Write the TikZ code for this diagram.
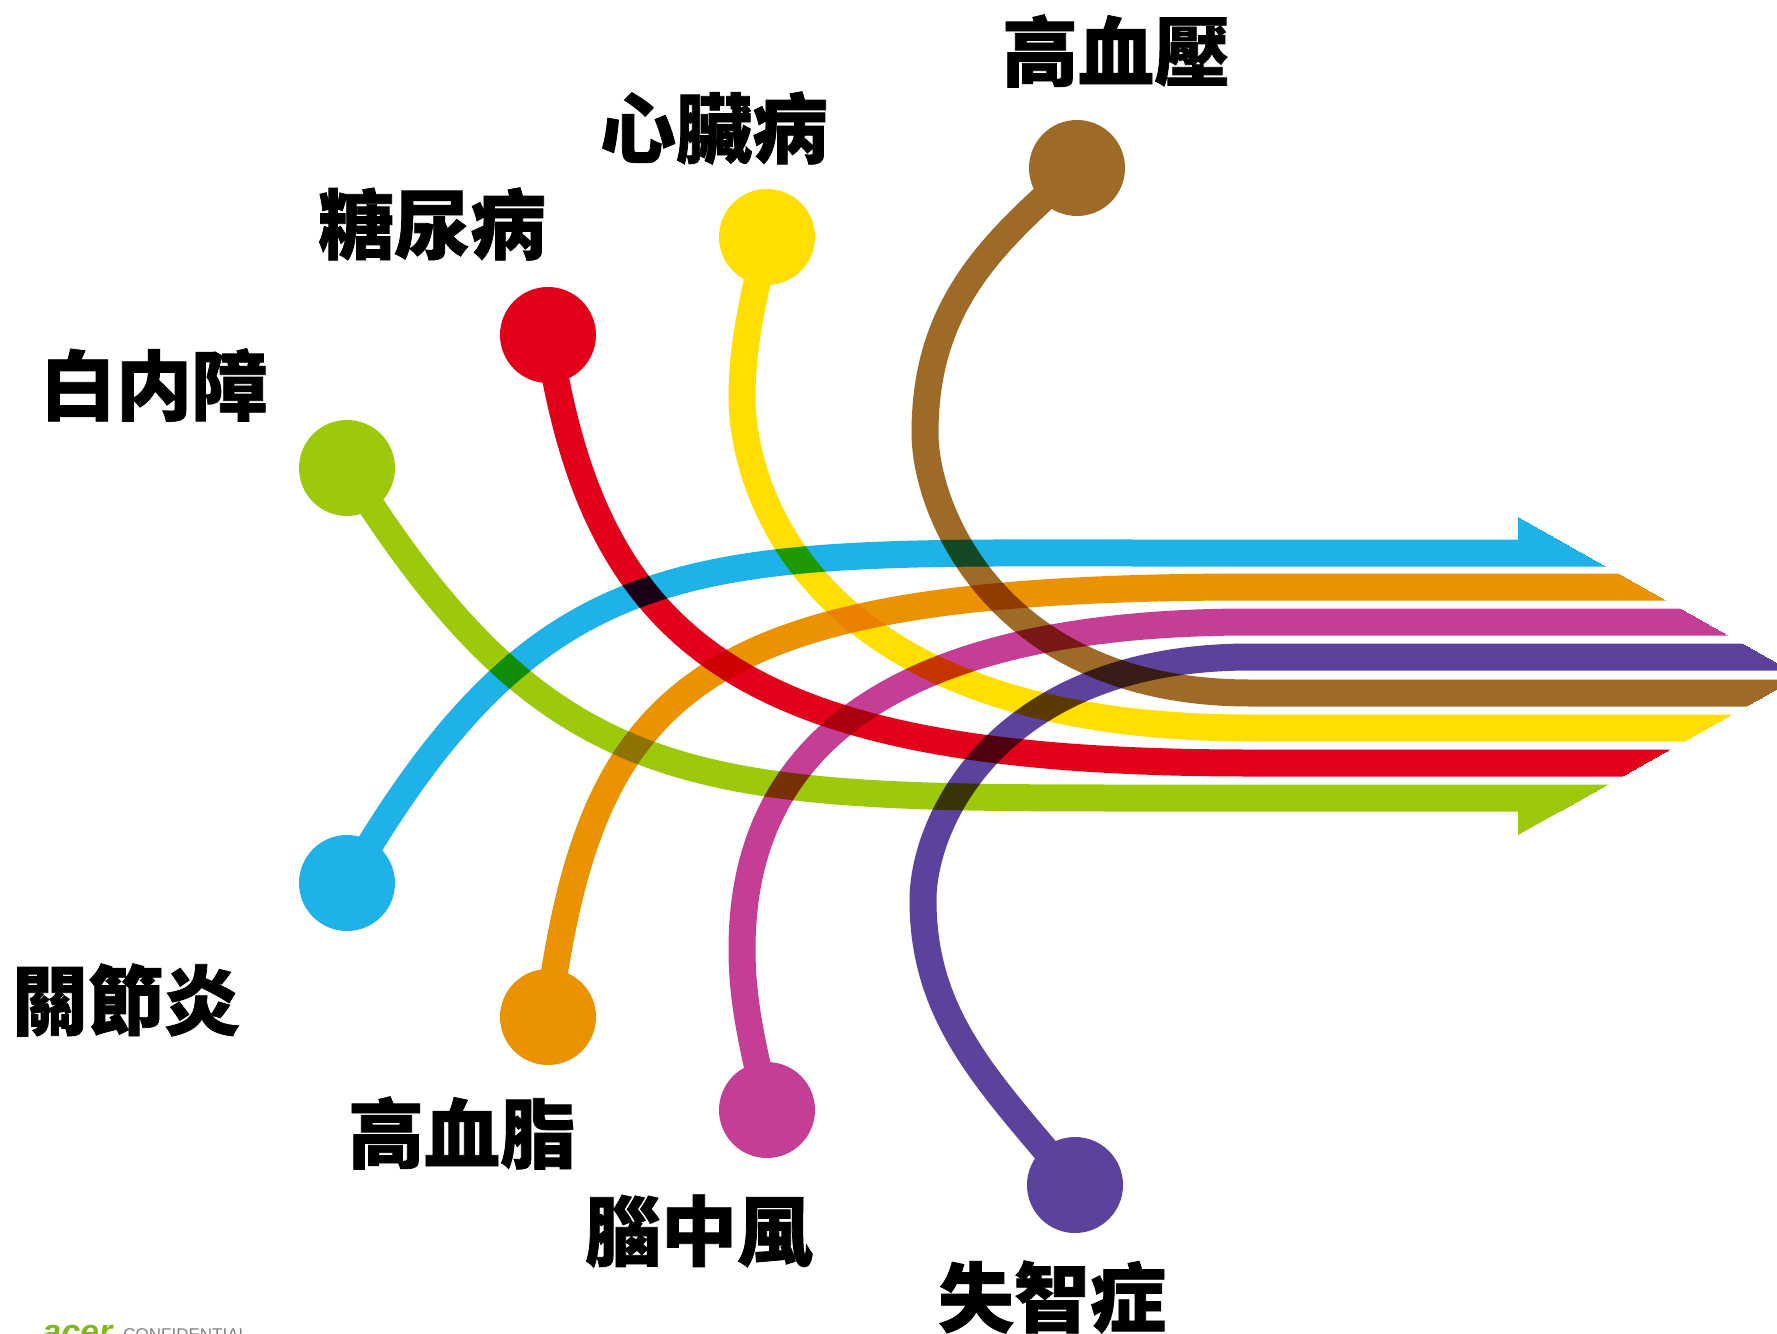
\documentclass[tikz,border=0pt]{standalone}
\usepackage{fontspec}
\newfontfamily\cjk{Noto Sans CJK TC}[BoldFeatures={FakeBold=1}]
\newfontfamily\logofont{Liberation Sans}
\definecolor{cblue}{RGB}{30,178,232}
\definecolor{corange}{RGB}{234,146,0}
\definecolor{cmagenta}{RGB}{196,62,150}
\definecolor{cpurple}{RGB}{92,66,156}
\definecolor{cbrown}{RGB}{158,106,40}
\definecolor{cyellow}{RGB}{255,222,0}
\definecolor{cred}{RGB}{226,0,26}
\definecolor{cgreen}{RGB}{156,202,10}
\definecolor{acergreen}{RGB}{131,184,26}
\begin{document}
\begin{tikzpicture}[x=0.5pt,y=-0.5pt,
  dot/.style={circle, minimum size=48pt, inner sep=0pt, draw=none},
  strand/.style={line width=13.5pt, line cap=butt, line join=round},
  lbl/.style={font=\cjk\bfseries\fontsize{38pt}{38pt}\selectfont, inner sep=0pt, text=black}]
\useasboundingbox (0,0) rectangle (1777,1333);
\clip (0,0) rectangle (1777,1333);
\fill[white] (0,0) rectangle (1777,1333);

\begin{scope}[blend mode=multiply]
\clip (-10,-10) -- (1518,-10) -- (1518,517) -- (1800,676) -- (1518,835) -- (1518,1400) -- (-10,1400) -- cycle;
% green
\begin{scope}[transparency group]
 \node[dot, fill=cgreen] (dgreen) at (347,468) {};
 \draw[strand, cgreen] (dgreen.center) .. controls (554,799) and (700,798) .. (1150,798) -- (1800,798);
 \fill[cgreen] (1518,785) -- (1607,785) -- (1518,835) -- cycle;
\end{scope}
% blue
\begin{scope}[transparency group]
 \node[dot, fill=cblue] (dblue) at (347,883) {};
 \draw[strand, cblue] (dblue.center) .. controls (547,537) and (700,553) .. (1150,553) -- (1800,553);
 \fill[cblue] (1518,517) -- (1607,566) -- (1518,566) -- cycle;
\end{scope}
% red
\begin{scope}[transparency group]
 \node[dot, fill=cred] (dred) at (548,335) {};
 \draw[strand, cred] (dred.center) .. controls (596,652) and (750,763) .. (1250,763) -- (1800,763);
\end{scope}
% orange
\begin{scope}[transparency group]
 \node[dot, fill=corange] (dorange) at (548,1017) {};
 \draw[strand, corange] (dorange.center) .. controls (592,680) and (700,587) .. (1250,587) -- (1800,587);
\end{scope}
% yellow
\begin{scope}[transparency group]
 \node[dot, fill=cyellow] (dyellow) at (767,237) {};
 \draw[strand, cyellow] (dyellow.center) .. controls (757,286) and (742,337) .. (742,397)
   .. controls (742,480) and (800,728) .. (1250,728) -- (1800,728);
\end{scope}
% magenta
\begin{scope}[transparency group]
 \node[dot, fill=cmagenta] (dmagenta) at (767,1110) {};
 \draw[strand, cmagenta] (dmagenta.center) .. controls (757,1061) and (742,1010) .. (742,950)
   .. controls (742,820) and (800,622) .. (1250,622) -- (1800,622);
\end{scope}
% brown
\begin{scope}[transparency group]
 \node[dot, fill=cbrown] (dbrown) at (1077,168) {};
 \draw[strand, cbrown] (dbrown.center) .. controls (995,241) and (925,303) .. (925,433)
   .. controls (925,513) and (1000,693) .. (1250,693) -- (1800,693);
\end{scope}
% purple
\begin{scope}[transparency group]
 \node[dot, fill=cpurple] (dpurple) at (1075,1185) {};
 \draw[strand, cpurple] (dpurple.center) .. controls (992,1085) and (923,1020) .. (923,900)
   .. controls (923,820) and (1000,657) .. (1250,657) -- (1800,657);
\end{scope}
\end{scope}

% labels
\node[lbl] (t1) at (1116,51) {高血壓};
\node[lbl] (t2) at (714,128) {心臟病};
\node[lbl] (t3) at (432,224) {糖尿病};
\node[lbl] (t4) at (154,385) {白内障};
\node[lbl] (t5) at (126,1000) {關節炎};
\node[lbl] (t6) at (462,1133) {高血脂};
\node[lbl] (t7) at (699,1231) {腦中風};
\node[lbl] (t8) at (1052,1297) {失智症};

% logo (cut off at bottom edge)
\node[anchor=base west, inner sep=0pt, text=acergreen, font=\logofont\bfseries\itshape\fontsize{17pt}{17pt}\selectfont] (logo) at (42,1343) {acer};
\node[anchor=base west, inner sep=0pt, text=gray, font=\logofont\fontsize{8.5pt}{8.5pt}\selectfont] (conf) at (123,1340) {CONFIDENTIAL};
\end{tikzpicture}
\end{document}
